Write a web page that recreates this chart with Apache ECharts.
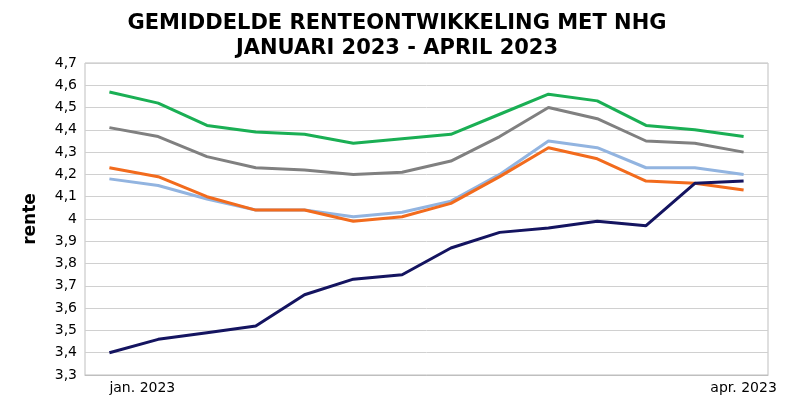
<!DOCTYPE html>
<html>
<head>
<meta charset="UTF-8">
<script src="https://cdn.jsdelivr.net/npm/echarts@6/dist/echarts.min.js"></script>
<style>html,body{margin:0;background:#fff}#c{width:794px;height:413px}</style>
</head>
<body>
<div id="c"></div>
<script>
// maanden (alleen eerste en laatste label zichtbaar)
var categories = ['jan. 2023','','','','','','','','','','','','','apr. 2023'];
var seriesGreen = [4.57,4.52,4.42,4.39,4.38,4.34,4.36,4.38,4.47,4.56,4.53,4.42,4.40,4.37];
var seriesGray = [4.41,4.37,4.28,4.23,4.22,4.20,4.21,4.26,4.37,4.50,4.45,4.35,4.34,4.30];
var seriesLightBlue = [4.18,4.15,4.09,4.04,4.04,4.01,4.03,4.08,4.20,4.35,4.32,4.23,4.23,4.20];
var seriesOrange = [4.23,4.19,4.10,4.04,4.04,3.99,4.01,4.07,4.19,4.32,4.27,4.17,4.16,4.13];
var seriesNavy = [3.40,3.46,3.49,3.52,3.66,3.73,3.75,3.87,3.94,3.96,3.99,3.97,4.16,4.17];

var chart = echarts.init(document.getElementById('c'));
function line(data, color) {
    return { type: 'line', data: data, symbol: 'none', lineStyle: { color: color, width: 3 }, itemStyle: { color: color } };
}
var catData = categories.map(function (c, i) {
    return i === 0 ? { value: c, textStyle: { align: 'left' } } : c;
});
chart.setOption({
    animation: false,
    title: {
        text: 'GEMIDDELDE RENTEONTWIKKELING MET NHG\nJANUARI 2023 - APRIL 2023',
        left: 'center', top: 6,
        textStyle: { fontFamily: 'DejaVu Sans', fontWeight: 900, fontSize: 21, lineHeight: 25, color: '#000' }
    },
    grid: { left: 85, right: 26, top: 63, bottom: 38, show: true, borderColor: '#bfbfbf', borderWidth: 1 },
    xAxis: {
        type: 'category', data: catData, boundaryGap: true,
        axisTick: { show: false }, axisLine: { lineStyle: { color: '#bfbfbf' } },
        axisLabel: { interval: 0, color: '#000', fontFamily: 'DejaVu Sans', fontSize: 14, margin: 6 }
    },
    yAxis: {
        type: 'value', min: 3.3, max: 4.7, interval: 0.1,
        name: 'rente', nameLocation: 'middle', nameGap: 46,
        nameTextStyle: { fontFamily: 'DejaVu Sans', fontWeight: 'bold', fontSize: 17, color: '#000' },
        axisLabel: { color: '#000', fontFamily: 'DejaVu Sans', fontSize: 14,
            formatter: function (v) { return (Math.round(v * 10) / 10).toString().replace('.', ','); } },
        splitLine: { lineStyle: { color: '#d0d0d0' } }
    },
    series: [
        line(seriesGreen, '#1aaf54'),
        line(seriesGray, '#808080'),
        line(seriesLightBlue, '#92b4e0'),
        line(seriesOrange, '#f26b1d'),
        line(seriesNavy, '#141460')
    ]
});
</script>
</body>
</html>
